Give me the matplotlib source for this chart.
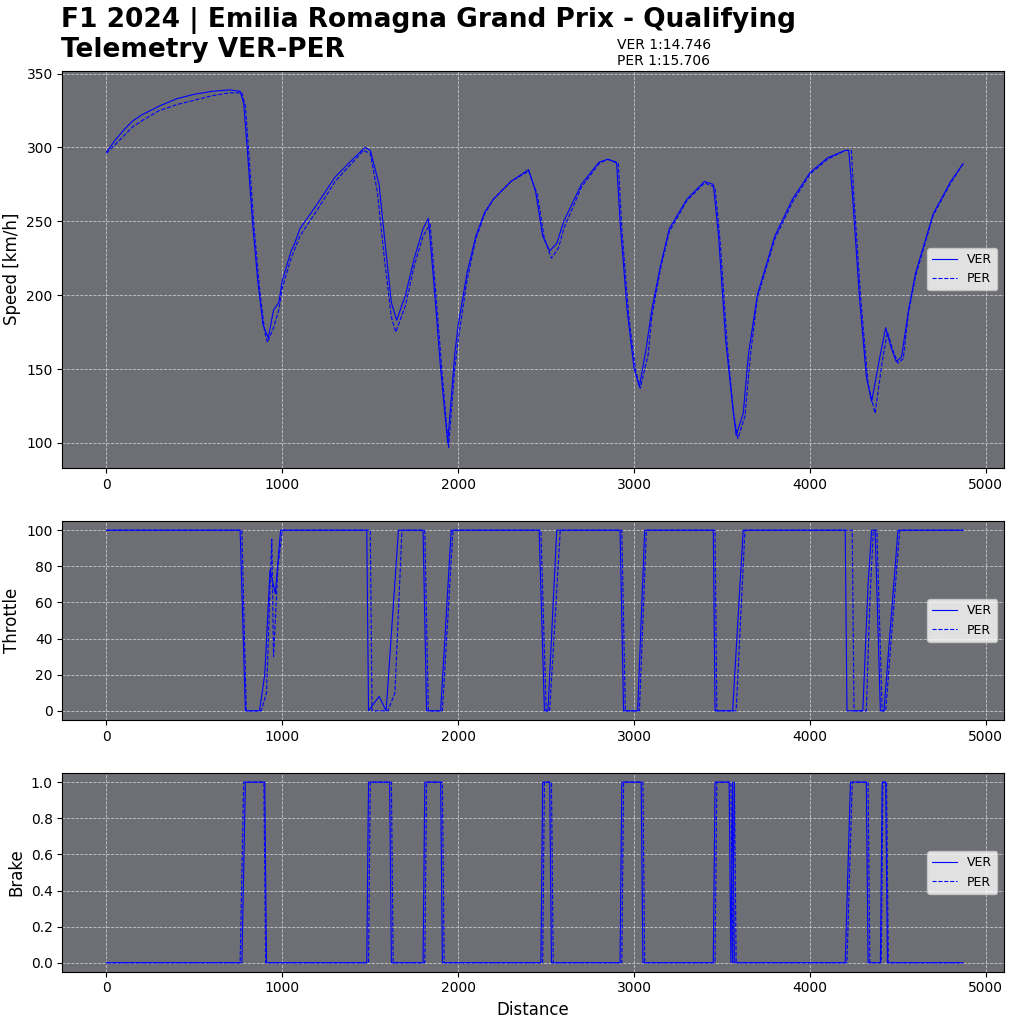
import matplotlib
matplotlib.use("Agg")
import matplotlib.pyplot as plt
import numpy as np

# speed (distance m, km/h)
ver_sd = [0, 50, 100, 150, 200, 300, 400, 500, 600, 700, 760, 780, 800, 830, 860, 890, 920, 950, 980, 1000,
          1050, 1070, 1100, 1200, 1300, 1400, 1470, 1500, 1550, 1580, 1620, 1650, 1700, 1750, 1800, 1830,
          1860, 1900, 1940, 1980, 2000, 2050, 2100, 2150, 2200, 2300, 2400, 2440, 2480, 2520, 2560, 2600,
          2700, 2800, 2850, 2900, 2920, 2960, 3000, 3030, 3070, 3100, 3150, 3200, 3300, 3400, 3450, 3480,
          3520, 3560, 3580, 3620, 3650, 3700, 3800, 3900, 4000, 4100, 4200, 4220, 4240, 4280, 4320, 4350,
          4400, 4430, 4460, 4490, 4520, 4560, 4600, 4700, 4800, 4870]
ver_speed = [297, 305, 312, 318, 322, 328, 333, 336, 338, 339, 338, 330, 300, 250, 210, 180, 171, 190, 195, 210,
             230, 235, 245, 262, 280, 292, 300, 298, 275, 240, 195, 183, 200, 225, 245, 252,
             210, 150, 100, 160, 180, 215, 240, 256, 265, 277, 285, 270, 240, 230, 235, 250,
             275, 290, 292, 290, 250, 190, 150, 138, 165, 190, 220, 245, 265, 277, 275, 240,
             170, 125, 105, 120, 160, 200, 240, 265, 283, 293, 298, 298, 270, 200, 145, 128,
             160, 178, 165, 155, 158, 190, 215, 255, 277, 289]
per_sd = [0, 50, 100, 150, 200, 300, 400, 500, 600, 700, 770, 790, 810, 840, 870, 900, 915, 950, 980, 1000,
          1050, 1100, 1200, 1300, 1400, 1460, 1500, 1540, 1580, 1620, 1645, 1700, 1750, 1800, 1840,
          1870, 1910, 1945, 1980, 2000, 2050, 2100, 2150, 2200, 2300, 2400, 2450, 2490, 2530, 2570, 2600,
          2700, 2800, 2850, 2910, 2930, 2970, 3010, 3035, 3080, 3100, 3150, 3200, 3300, 3400, 3460, 3490,
          3530, 3565, 3590, 3630, 3660, 3700, 3800, 3900, 4000, 4100, 4200, 4235, 4250, 4290, 4330, 4370,
          4410, 4440, 4470, 4500, 4530, 4560, 4600, 4700, 4800, 4870]
per_speed = [296, 302, 308, 314, 318, 325, 329, 332, 335, 337, 337, 328, 295, 245, 205, 175, 168, 178, 190, 205,
             225, 240, 258, 277, 290, 298, 296, 270, 225, 185, 175, 193, 220, 240, 248,
             205, 145, 97, 150, 170, 210, 238, 255, 265, 277, 284, 268, 238, 225, 232, 245,
             273, 289, 292, 289, 245, 185, 148, 137, 160, 185, 218, 243, 264, 276, 273, 235,
             165, 120, 103, 118, 158, 198, 238, 263, 282, 292, 298, 298, 265, 195, 140, 120,
             155, 175, 163, 154, 157, 188, 213, 254, 276, 289]

# throttle
ver_td = [0, 760, 790, 870, 900, 930, 960, 990, 1480, 1490, 1550, 1590, 1660, 1800, 1820, 1900, 1960,
          2460, 2490, 2510, 2560, 2920, 2940, 3020, 3060, 3450, 3460, 3560, 3620, 4200, 4210, 4300,
          4330, 4350, 4370, 4400, 4420, 4500, 4870]
ver_thr = [100, 100, 0, 0, 20, 78, 65, 100, 100, 0, 8, 0, 100, 100, 0, 0, 100,
           100, 0, 0, 100, 100, 0, 0, 100, 100, 0, 0, 100, 100, 0, 0,
           70, 100, 100, 0, 0, 100, 100]
per_td = [0, 770, 795, 880, 910, 940, 950, 975, 1000, 1500, 1510, 1600, 1640, 1680, 1810, 1830, 1910, 1970,
          2470, 2500, 2520, 2580, 2930, 2950, 3030, 3070, 3460, 3470, 3580, 3630, 4240, 4250, 4320,
          4340, 4360, 4380, 4410, 4430, 4510, 4870]
per_thr = [100, 100, 0, 0, 10, 95, 30, 80, 100, 100, 0, 0, 10, 100, 100, 0, 0, 100,
           100, 0, 0, 100, 100, 0, 0, 100, 100, 0, 0, 100, 100, 0, 0,
           60, 100, 100, 0, 0, 100, 100]

# brake
ver_bd = [0, 770, 790, 900, 910, 1480, 1490, 1610, 1620, 1800, 1810, 1900, 1910, 2470, 2480, 2520, 2530,
          2920, 2930, 3040, 3050, 3450, 3460, 3540, 3550, 3560, 3570, 4200, 4230, 4320, 4330, 4400, 4410,
          4430, 4440, 4870]
ver_brk = [0, 0, 1, 1, 0, 0, 1, 1, 0, 0, 1, 1, 0, 0, 1, 1, 0,
           0, 1, 1, 0, 0, 1, 1, 0, 1, 0, 0, 1, 1, 0, 0, 1,
           1, 0, 0]
per_bd = [0, 760, 780, 895, 905, 1490, 1500, 1620, 1630, 1810, 1820, 1910, 1920, 2480, 2490, 2530, 2540,
          2930, 2940, 3050, 3060, 3460, 3470, 3550, 3560, 3570, 3580, 4210, 4240, 4330, 4340, 4405, 4415,
          4435, 4445, 4870]
per_brk = ver_brk

ver_time = "VER 1:14.746"
per_time = "PER 1:15.706"

face = "#6d6f74"
fig = plt.figure(figsize=(10.24, 10.24), dpi=100)
ax1 = fig.add_axes([0.061, 0.543, 0.919, 0.388])
ax2 = fig.add_axes([0.061, 0.297, 0.919, 0.194])
ax3 = fig.add_axes([0.061, 0.051, 0.919, 0.194])

panels = [(ax1, ver_sd, ver_speed, per_sd, per_speed, "Speed [km/h]"),
          (ax2, ver_td, ver_thr, per_td, per_thr, "Throttle"),
          (ax3, ver_bd, ver_brk, per_bd, per_brk, "Brake")]
for ax, vx, vy, px, py, lab in panels:
    ax.set_facecolor(face)
    ax.plot(vx, vy, color="blue", lw=0.8, label="VER")
    ax.plot(px, py, color="blue", lw=0.8, ls="--", label="PER")
    ax.set_ylabel(lab, fontsize=12)
    ax.set_xlim(-250, 5100)
    ax.grid(True, color="#c8c8c8", ls="--", lw=0.6)
    ax.legend(loc="center right", fontsize=9)
    ax.tick_params(labelsize=10)

ax1.set_ylim(83, 352)
ax2.set_ylim(-5, 105)
ax3.set_ylim(-0.05, 1.05)
ax3.set_xlabel("Distance", fontsize=12)

tfam = ["DejaVu Sans Condensed", "DejaVu Sans"]
fig.text(0.06, 0.98, "F1 2024 | Emilia Romagna Grand Prix - Qualifying", fontsize=19,
         fontweight="bold", family=tfam, va="center")
fig.text(0.06, 0.951, "Telemetry VER-PER", fontsize=19, fontweight="bold",
         family=tfam, va="center")
fig.text(0.603, 0.956, ver_time, fontsize=10, va="center")
fig.text(0.603, 0.94, per_time, fontsize=10, va="center")

fig.savefig("out.png", dpi=100)
